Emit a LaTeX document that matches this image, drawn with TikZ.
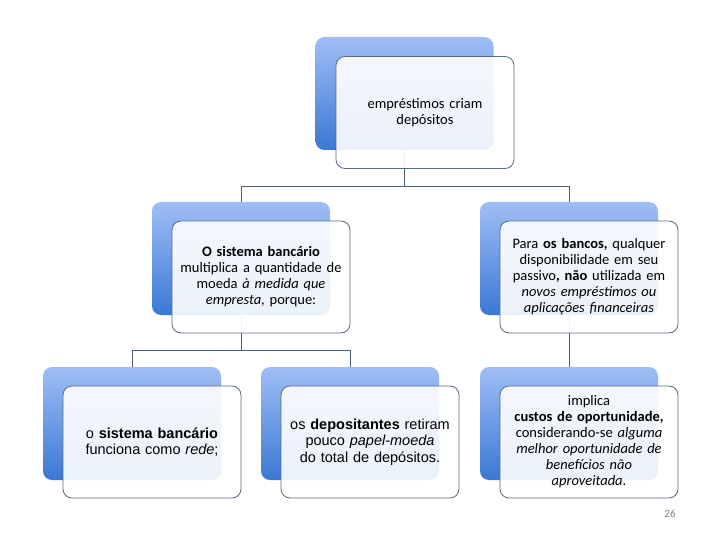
\documentclass[tikz,border=0pt]{standalone}
\usepackage{fontspec}
\setmainfont{Carlito}
\newfontfamily\arialfont{Liberation Sans}

\definecolor{backtop}{RGB}{160,190,246}
\definecolor{backbottom}{RGB}{58,120,212}
\definecolor{cardframe}{RGB}{88,106,128}
\definecolor{linkcolor}{RGB}{78,94,116}

\tikzset{
    back/.style={rectangle, rounded corners=9pt, minimum width=178pt, minimum height=113pt,
        inner sep=0pt, top color=backtop, bottom color=backbottom},
    card/.style={rectangle, rounded corners=9pt, minimum width=178pt, minimum height=112pt,
        inner sep=0pt, draw=cardframe, line width=0.8pt, fill=white, fill opacity=0.9,
        text opacity=1, align=center, text width=174pt, font=\fontsize{14.5}{16}\selectfont},
    arialcard/.style={card, font=\arialfont\fontsize{14.5}{16.5}\selectfont},
    link/.style={draw=linkcolor, line width=0.9pt},
}

\begin{document}
\begin{tikzpicture}[x=1pt, y=-1pt]
\useasboundingbox (0,0) rectangle (720,540);

% coloured backs
\node[back] (b0) at (404.5, 93.5) {};
\node[back] (b1) at (241, 258.5) {};
\node[back] (b2) at (569, 258.5) {};
\node[back] (b3) at (132, 423.5) {};
\node[back] (b4) at (350, 423.5) {};
\node[back] (b5) at (569, 423.5) {};

% connectors
\coordinate (j0) at (404.5, 186);
\coordinate (j1) at (241, 350);
\draw[link] (b0.south) -- (j0);
\draw[link] (j0) -| (b1.north);
\draw[link] (j0) -| (b2.north);
\draw[link] (b1.south) -- (j1);
\draw[link] (j1) -| (b3.north);
\draw[link] (j1) -| (b4.north);
\draw[link] (b2.south) -- (b5.north);

% text cards
\node[card] (t0) at (425, 112.5) {empréstimos criam\\depósitos};
\node[card] (t1) at (261, 277) {\textbf{O sistema bancário}\\multiplica a quantidade de\\moeda \textit{à medida que}\\\textit{empresta}, porque:};
\node[card] (t2) at (589, 277) {Para \textbf{os bancos,} qualquer\\disponibilidade em seu\\passivo\textbf{, não} utilizada em\\\textit{novos empréstimos ou}\\\textit{aplicações financeiras}};
\node[arialcard] (t3) at (152, 442) {o \textbf{sistema bancário}\\funciona como \textit{rede};};
\node[arialcard] (t4) at (370, 442) {os \textbf{depositantes} retiram\\pouco \textit{papel-moeda}\\do total de depósitos.};
\node[card] (t5) at (589, 442) {implica\\\textbf{custos de oportunidade,}\\considerando-se \textit{alguma}\\\textit{melhor oportunidade de}\\\textit{benefícios não}\\\textit{aproveitada}.};

\node[text=gray, font=\fontsize{11}{13}\selectfont] (page) at (670, 514) {26};
\end{tikzpicture}
\end{document}
